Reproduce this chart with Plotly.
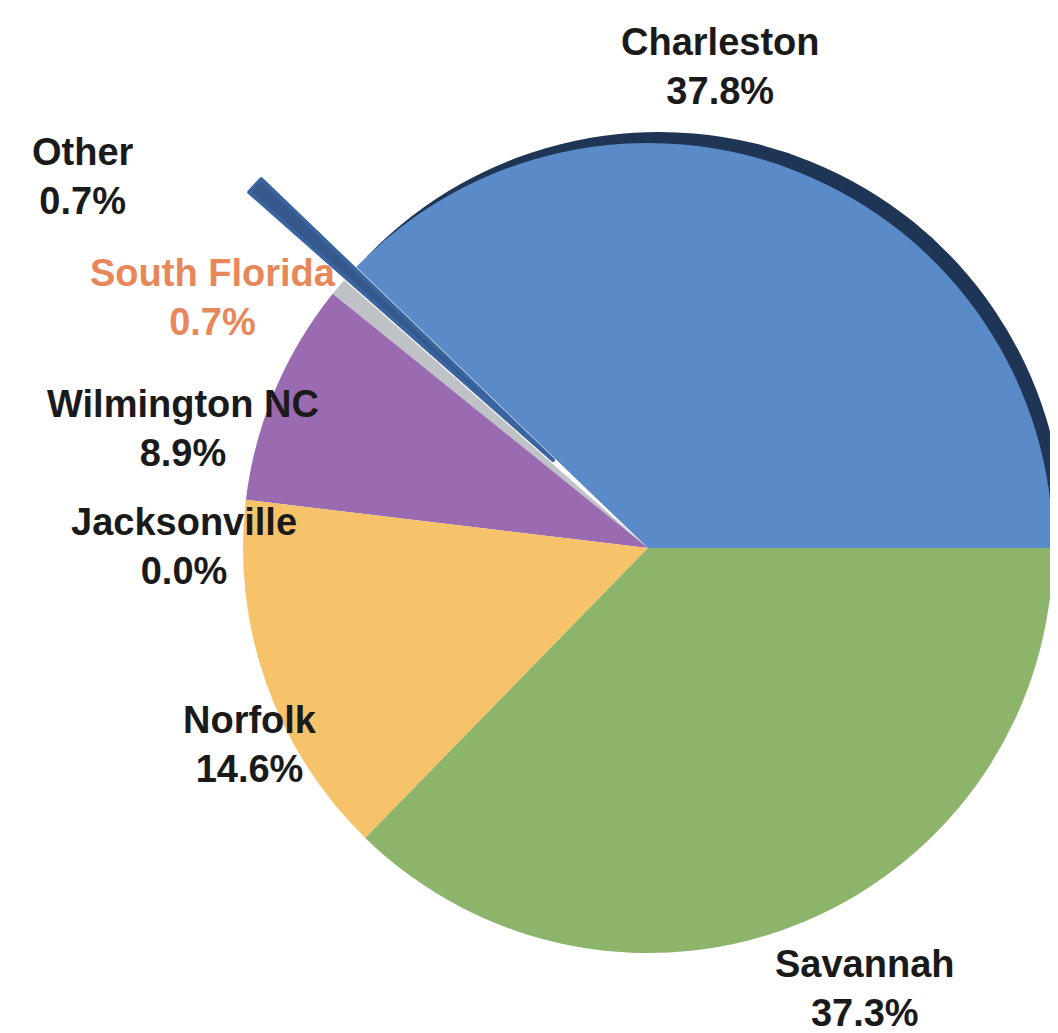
import plotly.graph_objects as go

# ---- data ----
ports = ["Charleston", "Other", "South Florida", "Wilmington NC", "Jacksonville", "Norfolk", "Savannah"]
shares = [37.8, 0.7, 0.7, 8.9, 0.0, 14.6, 37.3]
slice_colors = ["#5A8BC8", "#34598A", "#BFC3C8", "#9A6BB0", "#4BACC6", "#F6C36A", "#8DB46B"]
label_colors = ["#1A1A1A", "#1A1A1A", "#E8875A", "#1A1A1A", "#1A1A1A", "#1A1A1A", "#1A1A1A"]

W, H = 1058, 1033
R = 405  # pie radius in px


def dom(cx, cy, r=R):
    return dict(x=[(cx - r) / W, (cx + r) / W], y=[1 - (cy + r) / H, 1 - (cy - r) / H])


# Charleston starts at 3 o'clock and runs counterclockwise
# (plotly puts the END of the first slice at `rotation` for counterclockwise pies)
rot = 90 - 360 * shares[0] / sum(shares)

common = dict(labels=ports, values=shares, sort=False, direction="counterclockwise",
              rotation=rot, textinfo="none", hoverinfo="label+percent", showlegend=False)

fig = go.Figure()

# dark rim (3D edge) behind the Charleston slice
rim_colors = ["#1F3556"] + ["rgba(0,0,0,0)"] * (len(ports) - 1)
fig.add_trace(go.Pie(**common, domain=dom(651, 529),
                     marker=dict(colors=rim_colors, line=dict(width=0))))

# main pie; "Other" drawn separately as exploded slice
main_colors = [c if p != "Other" else "rgba(0,0,0,0)" for p, c in zip(ports, slice_colors)]
fig.add_trace(go.Pie(**common, domain=dom(640, 540),
                     marker=dict(colors=main_colors, line=dict(width=0))))

# exploded "Other" slice
oth_colors = [c if p == "Other" else "rgba(0,0,0,0)" for p, c in zip(ports, slice_colors)]
oth_lines = ["#3A64A0" if p == "Other" else "rgba(0,0,0,0)" for p in ports]
fig.add_trace(go.Pie(**common, domain=dom(545, 452),
                     marker=dict(colors=oth_colors, line=dict(color=oth_lines, width=4))))

# labels
label_pos = {
    "Charleston": (712, 58),
    "Other": (75, 168),
    "South Florida": (205, 290),
    "Wilmington NC": (175, 421),
    "Jacksonville": (176, 538),
    "Norfolk": (242, 736),
    "Savannah": (857, 980),
}
for p, v, col in zip(ports, shares, label_colors):
    x, y = label_pos[p]
    fig.add_annotation(x=x / W, y=1 - y / H, xref="paper", yref="paper",
                       text=f"<b>{p}<br>{v:.1f}%</b>", showarrow=False,
                       xanchor="center", yanchor="middle", align="center",
                       font=dict(family="Liberation Sans, Arial, sans-serif", size=38, color=col))

fig.update_layout(width=W, height=H, margin=dict(l=0, r=0, t=0, b=0),
                  paper_bgcolor="white", plot_bgcolor="white")
fig.write_html("out.html")
